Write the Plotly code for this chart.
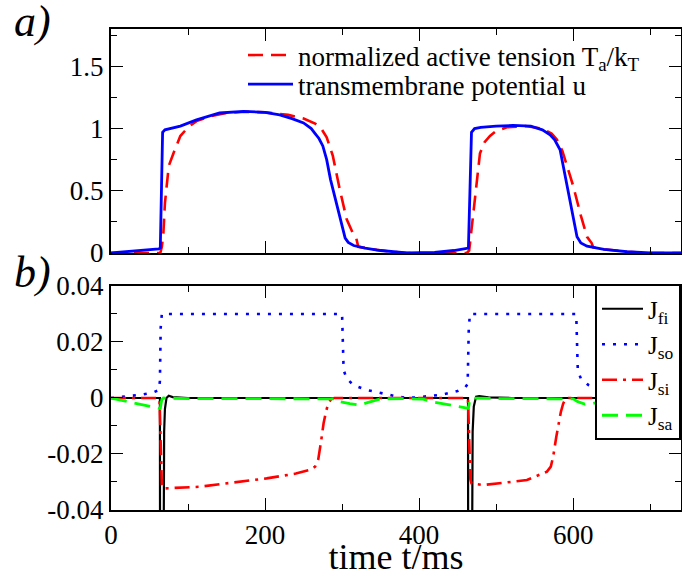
import plotly.graph_objects as go

# ---------------- data ----------------
# panel a) transmembrane potential u
t_u = [0, 20, 40, 62, 64, 65.5, 67, 70, 80, 90, 111, 141, 172, 200, 219, 235, 250, 260,
       265, 270, 275, 280, 285, 290, 295, 300, 304, 308, 315, 330, 350, 384, 420, 445,
       462, 464, 466, 468, 472, 480, 500, 522, 545, 560, 570, 576, 583, 590, 598, 605,
       610, 618, 640, 670, 700, 740]
u = [0.0, 0.01, 0.02, 0.033, 0.04, 0.5, 0.97, 0.99, 1.005, 1.02, 1.07, 1.125, 1.138, 1.13,
     1.11, 1.08, 1.045, 1.0, 0.96, 0.92, 0.86, 0.75, 0.59, 0.46, 0.33, 0.2, 0.12, 0.085,
     0.06, 0.04, 0.02, 0.0, 0.005, 0.02, 0.035, 0.04, 0.5, 0.97, 1.0, 1.01, 1.02, 1.025,
     1.02, 0.99, 0.95, 0.91, 0.83, 0.6, 0.34, 0.13, 0.08, 0.055, 0.03, 0.01, 0.0, 0.0]

# panel a) normalized active tension T_a/k_T
t_T = [0, 40, 64, 66, 68, 70, 75, 81, 90, 100, 111, 130, 150, 175, 200, 230, 250, 265,
       274, 280, 288, 297, 306, 314, 318, 321, 330, 345, 365, 384, 420, 462, 465, 468,
       474, 479, 485, 492, 500, 514, 538, 560, 572, 579, 586, 593, 600, 610, 618, 624,
       626, 640, 670, 700, 740]
T = [0.0, 0.0, 0.0, 0.05, 0.16, 0.4, 0.7, 0.8, 0.94, 1.01, 1.06, 1.1, 1.125, 1.135, 1.13,
     1.11, 1.08, 1.04, 0.99, 0.93, 0.78, 0.51, 0.27, 0.16, 0.13, 0.05, 0.04, 0.025, 0.01,
     0.0, 0.0, 0.0, 0.02, 0.19, 0.55, 0.8, 0.89, 0.94, 0.98, 1.01, 1.02, 1.0, 0.96, 0.91,
     0.82, 0.68, 0.54, 0.3, 0.13, 0.08, 0.045, 0.03, 0.01, 0.0, 0.0]

# panel b) currents
t_fi = [0, 62, 63.5, 64.5, 67, 68, 69, 70, 72, 75, 80, 100, 462, 463.5, 464.5, 467.5,
        468.5, 469.5, 471, 474, 478, 490, 520, 740]
J_fi = [0.0, 0.0, 0.0, -0.3, -0.3, -0.04, -0.012, -0.004, 0.0, 0.0008, 0.0003, 0.0,
        0.0, 0.0, -0.3, -0.3, -0.04, -0.012, -0.003, 0.0005, 0.0007, 0.0002, 0.0, 0.0]

t_so = [0, 20, 40, 55, 62, 63.5, 64.5, 66, 300, 301, 302, 306, 315, 330, 341, 354, 370,
        384, 400, 430, 450, 460, 463, 464.5, 466, 604, 605, 606, 610, 620, 640, 660,
        690, 740]
J_so = [0.0, 0.0005, 0.0012, 0.002, 0.0028, 0.006, 0.025, 0.03, 0.03, 0.02, 0.01, 0.0069,
        0.0046, 0.003, 0.0023, 0.0014, 0.0006, 0.0, 0.0003, 0.0012, 0.0025, 0.0038, 0.005,
        0.025, 0.03, 0.03, 0.02, 0.01, 0.0069, 0.0046, 0.0023, 0.001, 0.0, 0.0]

t_si = [0, 62, 63, 64, 65, 66, 67, 68, 115, 202, 240, 258, 265, 269, 273, 276, 279, 282,
        286, 290, 462, 463.5, 464.5, 465.5, 466.5, 468, 483, 540, 566, 571, 574, 578,
        581, 584, 587, 590, 594, 740]
J_si = [0.0, 0.0, -0.001, -0.01, -0.025, -0.031, -0.032, -0.0323, -0.0317, -0.0287,
        -0.027, -0.0257, -0.0245, -0.022, -0.015, -0.009, -0.005, -0.002, -0.0003, 0.0,
        0.0, -0.001, -0.01, -0.025, -0.029, -0.0305, -0.0311, -0.0293, -0.0263, -0.0245,
        -0.021, -0.014, -0.009, -0.005, -0.002, -0.0003, 0.0, 0.0]

t_sa = [0, 20, 40, 62, 64, 65, 66, 68, 100, 290, 297, 310, 323, 335, 350, 380, 405, 420,
        440, 462, 464, 465, 466, 468, 500, 600, 606, 615, 625, 640, 660, 700, 740]
J_sa = [0.0, -0.0012, -0.0024, -0.0036, -0.0038, -0.002, -0.0005, 0.0, -0.0002, -0.0003,
        -0.0013, -0.002, -0.0025, -0.0015, -0.0003, -0.0002, -0.0004, -0.0015, -0.0025,
        -0.0036, -0.0037, -0.002, -0.0005, 0.0, -0.0002, -0.0003, -0.0013, -0.0022,
        -0.002, -0.001, -0.0003, -0.0004, -0.0015]

# axis ticks
x_tickvals = [0, 200, 400, 600]
x_ticktext = ["0", "200", "400", "600"]
ya_tickvals = [0, 0.5, 1, 1.5]
ya_ticktext = ["0", "0.5", "1", "1.5"]
yb_tickvals = [-0.04, -0.02, 0, 0.02, 0.04]
yb_ticktext = ["-0.04", "-0.02", "0", "0.02", "0.04"]

# ---------------- figure ----------------
FONT = "Liberation Serif"
fig = go.Figure()

fig.add_trace(go.Scatter(x=t_T, y=T, mode="lines", xaxis="x", yaxis="y",
                         name="normalized active tension T<sub>a</sub>/k<sub>T</sub>",
                         line=dict(color="#ff0000", width=2.6, dash="15px,8px"),
                         legend="legend"))
fig.add_trace(go.Scatter(x=t_u, y=u, mode="lines", xaxis="x", yaxis="y",
                         name="transmembrane potential u",
                         line=dict(color="#0000ff", width=2.8),
                         legend="legend3"))

fig.add_trace(go.Scatter(x=t_fi, y=J_fi, mode="lines", xaxis="x2", yaxis="y2",
                         name="J<sub>fi</sub>", line=dict(color="#000000", width=2.2),
                         legend="legend2"))
fig.add_trace(go.Scatter(x=t_so, y=J_so, mode="lines", xaxis="x2", yaxis="y2",
                         name="J<sub>so</sub>",
                         line=dict(color="#0000ff", width=2.6, dash="3px,8px"),
                         legend="legend2"))
fig.add_trace(go.Scatter(x=t_si, y=J_si, mode="lines", xaxis="x2", yaxis="y2",
                         name="J<sub>si</sub>",
                         line=dict(color="#ff0000", width=2.6, dash="15px,6px,3px,6px"),
                         legend="legend2"))
fig.add_trace(go.Scatter(x=t_sa, y=J_sa, mode="lines", xaxis="x2", yaxis="y2",
                         name="J<sub>sa</sub>",
                         line=dict(color="#00ff00", width=2.8, dash="16px,8px"),
                         legend="legend2"))

axis_common = dict(showline=True, linecolor="black", linewidth=2, mirror="ticks",
                   ticks="inside", ticklen=12, tickwidth=1.3, tickcolor="black",
                   showgrid=False, zeroline=False,
                   tickfont=dict(family=FONT, size=27, color="black"))

PLOT_L, PLOT_W, PLOT_B, PLOT_H = 111, 570, 510, 481


def px_x(p):
    return (p - PLOT_L) / PLOT_W


def px_y(p):
    return (PLOT_B - p) / PLOT_H


top_legend = dict(xanchor="left", yanchor="top", bgcolor="rgba(0,0,0,0)", borderwidth=0,
                  itemwidth=45, font=dict(family=FONT, size=27, color="black"))

fig.update_layout(
    width=682, height=577,
    margin=dict(l=111, r=1, t=29, b=67, autoexpand=False),
    paper_bgcolor="white", plot_bgcolor="white",
    font=dict(family=FONT, size=27, color="black"),
    xaxis=dict(domain=[0, 1], anchor="y", range=[0, 740], tickvals=x_tickvals,
               showticklabels=False,
               minor=dict(ticks="inside", ticklen=6, dtick=100, tick0=0,
                          tickcolor="black", tickwidth=1.3),
               **axis_common),
    yaxis=dict(domain=[0.5343, 1], anchor="x", range=[0, 1.8], tickvals=ya_tickvals,
               ticktext=ya_ticktext,
               minor=dict(ticks="inside", ticklen=6, dtick=0.25, tick0=0,
                          tickcolor="black", tickwidth=1.3),
               **axis_common),
    xaxis2=dict(domain=[0, 1], anchor="y2", range=[0, 740], tickvals=x_tickvals,
                ticktext=x_ticktext,
                title=dict(text="time t/ms", font=dict(family=FONT, size=36, color="black"),
                           standoff=8),
                minor=dict(ticks="inside", ticklen=6, dtick=100, tick0=0,
                           tickcolor="black", tickwidth=1.3),
                **axis_common),
    yaxis2=dict(domain=[0, 0.4657], anchor="x2", range=[-0.04, 0.04],
                tickvals=yb_tickvals, ticktext=yb_ticktext,
                minor=dict(ticks="inside", ticklen=6, dtick=0.01, tick0=0,
                           tickcolor="black", tickwidth=1.3),
                **axis_common),
    legend=dict(x=px_x(243), y=px_y(57 - 26), **top_legend),
    legend3=dict(x=px_x(243), y=px_y(89 - 29), **top_legend),
    legend2=dict(x=1, xanchor="right", y=px_y(284), yanchor="top", itemwidth=41,
                 bgcolor="white", bordercolor="black", borderwidth=2,
                 font=dict(family=FONT, size=25, color="black")),
    showlegend=True,
    annotations=[
        dict(text="<i>a)</i>", xref="paper", yref="paper",
             x=px_x(12), xanchor="left", y=px_y(22), yanchor="middle",
             showarrow=False, font=dict(family=FONT, size=44, color="black")),
        dict(text="<i>b)</i>", xref="paper", yref="paper",
             x=px_x(12), xanchor="left", y=px_y(272), yanchor="middle",
             showarrow=False, font=dict(family=FONT, size=44, color="black")),
    ],
)

fig.write_html("out.html", config={"displayModeBar": False},
               post_script="document.body.style.margin='0';document.body.style.overflow='hidden';")
